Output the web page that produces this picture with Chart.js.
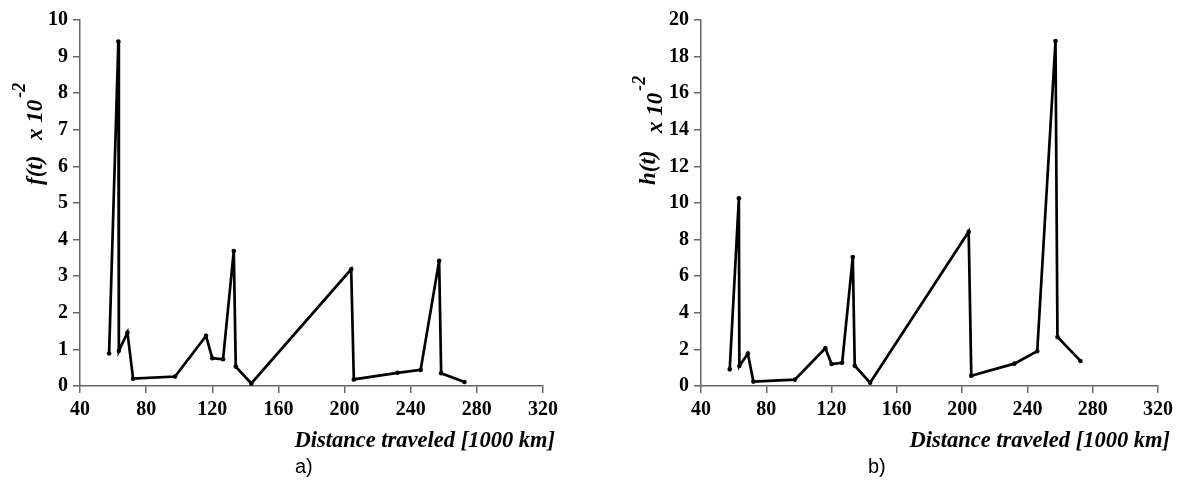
<!DOCTYPE html>
<html>
<head>
<meta charset="utf-8">
<script src="https://cdn.jsdelivr.net/npm/chart.js@4.4.1/dist/chart.umd.min.js"></script>
<style>
  body { margin:0; background:#fff; }
  #wrap { display:flex; width:1178px; height:481px; }
  canvas { display:block; }
</style>
</head>
<body>
<div id="wrap">
  <canvas id="chartA" width="589" height="481"></canvas>
  <canvas id="chartB" width="589" height="481"></canvas>
</div>
<script>
// distance travelled, in 1000 km (shared by both panels)
const distance = [57.6, 63.2, 63.5, 68.7, 72.1, 97.5, 116.2, 120, 126.5, 133, 134.2, 143.6, 204, 205.6, 232, 246, 257.2, 258.4, 272.5]
// f(t) x 10^-2
const fValues = [0.89, 9.41, 0.96, 1.46, 0.20, 0.26, 1.37, 0.76, 0.73, 3.69, 0.53, 0.07, 3.19, 0.18, 0.36, 0.44, 3.42, 0.35, 0.11]
// h(t) x 10^-2
const hValues = [0.91, 10.26, 1.09, 1.77, 0.24, 0.35, 2.06, 1.20, 1.27, 7.05, 1.11, 0.18, 8.43, 0.56, 1.22, 1.90, 18.85, 2.68, 1.37]
const xTicks = [40, 80, 120, 160, 200, 240, 280, 320]
const xTitle = "Distance traveled [1000 km]"

const serif = '"Liberation Serif", "Times New Roman", serif'

// axis titles, panel letters
const titles = {
  id: 'titles',
  afterDraw(chart, args, o) {
    const ctx = chart.ctx, a = chart.chartArea
    ctx.save()
    ctx.fillStyle = '#000'
    ctx.font = 'bold italic 22.5px ' + serif
    ctx.textAlign = 'right'
    ctx.textBaseline = 'middle'
    ctx.fillText(xTitle, a.right + 12, 441)

    ctx.font = '20px "Liberation Sans", Arial, sans-serif'
    ctx.textAlign = 'left'
    ctx.fillText(o.panel, o.panelX, 467)

    ctx.textBaseline = 'alphabetic'
    ctx.font = 'bold italic 23px ' + serif
    ctx.save()
    ctx.translate(o.mainX, 185)
    ctx.rotate(-Math.PI / 2)
    ctx.fillText(o.name, 0, 0)
    ctx.restore()

    ctx.save()
    ctx.translate(o.expX, o.expY)
    ctx.rotate(-Math.PI / 2)
    ctx.fillText('x 10', 0, 0)
    const w = ctx.measureText('x 10').width
    ctx.font = 'bold italic 18px ' + serif
    ctx.fillText('-2', w + 2, -17)
    ctx.restore()
    ctx.restore()
  }
}

function makeChart(id, values, yMax, yStep, leftW, rightPad, t) {
  const pts = distance.map((d, i) => ({ x: d, y: values[i] }))
  return new Chart(document.getElementById(id), {
    type: 'scatter',
    data: {
      datasets: [{
        data: pts,
        showLine: true,
        borderColor: '#000',
        backgroundColor: '#000',
        borderWidth: 2.7,
        pointRadius: 2.3,
        pointBorderWidth: 0
      }]
    },
    options: {
      responsive: false,
      animation: false,
      devicePixelRatio: 1,
      layout: { padding: { top: 20, right: rightPad, left: 0, bottom: 0 } },
      plugins: { legend: { display: false }, tooltip: { enabled: false }, titles: t },
      scales: {
        x: {
          type: 'linear', min: 40, max: 320,
          afterBuildTicks: s => { s.ticks = xTicks.map(v => ({ value: v })) },
          afterFit: s => { s.height = 95 },
          border: { display: true, color: '#666', width: 1.5 },
          grid: { drawOnChartArea: false, drawTicks: true, tickLength: 7, color: '#666', lineWidth: 1.5 },
          ticks: { color: '#000', padding: 5, font: { family: serif, size: 20, weight: 'bold' }, maxRotation: 0 }
        },
        y: {
          min: 0, max: yMax,
          afterFit: s => { s.width = leftW },
          border: { display: true, color: '#666', width: 1.5 },
          grid: { drawOnChartArea: false, drawTicks: true, tickLength: 7, color: '#666', lineWidth: 1.5 },
          ticks: { stepSize: yStep, color: '#000', padding: 5, font: { family: serif, size: 20, weight: 'bold' } }
        }
      }
    },
    plugins: [titles]
  })
}

makeChart('chartA', fValues, 10, 1, 80, 46, { panel: 'a)', panelX: 295, name: 'f(t)', mainX: 42, expX: 42, expY: 140 })
makeChart('chartB', hValues, 20, 2, 112, 15, { panel: 'b)', panelX: 279, name: 'h(t)', mainX: 66, expX: 73, expY: 133 })
</script>
</body>
</html>
